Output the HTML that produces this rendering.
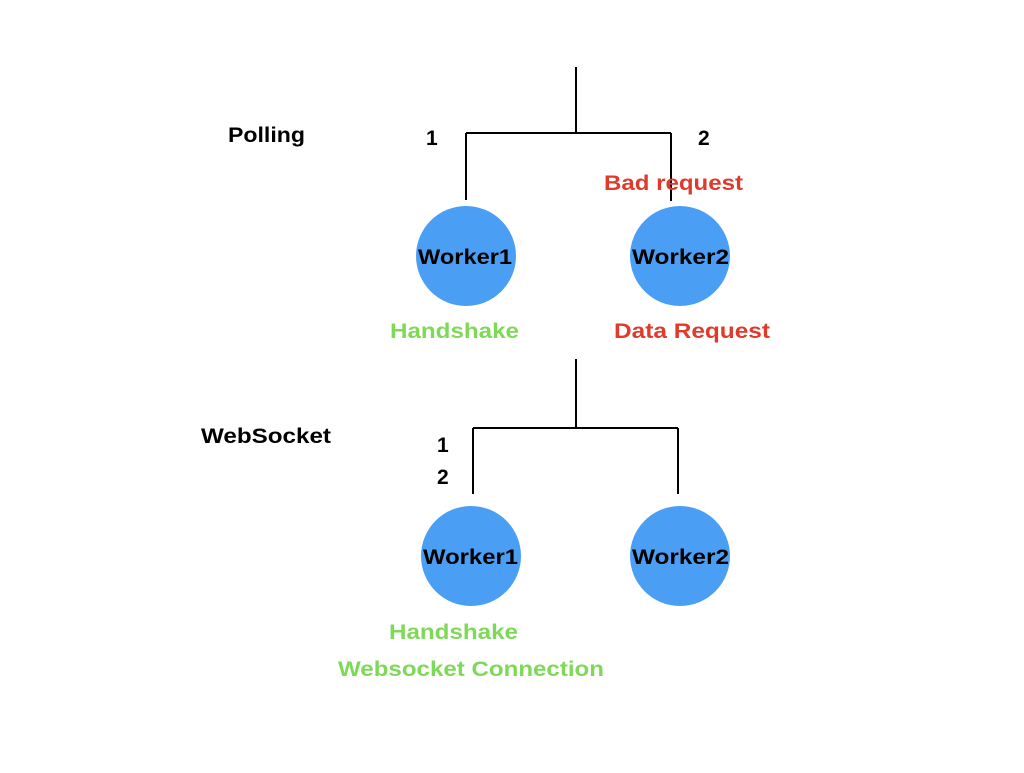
<!DOCTYPE html>
<html><head><style>html,body{margin:0;padding:0;background:#fff}</style></head>
<body>
<svg width="1024" height="768" viewBox="0 0 1024 768" xmlns="http://www.w3.org/2000/svg" font-family="Liberation Sans, Arial, sans-serif" font-weight="bold" font-size="21">
<g stroke="#000" stroke-width="2" fill="none">
<path d="M576 67V133M466 133H671M466 133V200M671 133V201"/>
<path d="M576 359V428M473 428H678M473 428V494M678 428V494"/>
</g>
<g fill="#4a9ff5">
<circle cx="466" cy="256" r="50"/>
<circle cx="680" cy="256" r="50"/>
<circle cx="471" cy="556" r="50"/>
<circle cx="680" cy="556" r="50"/>
</g>
<g fill="#000">
<text x="228" y="142" textLength="77" lengthAdjust="spacingAndGlyphs">Polling</text>
<text x="426" y="145">1</text>
<text x="698" y="145">2</text>
<text x="418" y="264" textLength="94" lengthAdjust="spacingAndGlyphs">Worker1</text>
<text x="632" y="264" textLength="97" lengthAdjust="spacingAndGlyphs">Worker2</text>
<text x="201" y="443" textLength="130" lengthAdjust="spacingAndGlyphs">WebSocket</text>
<text x="437" y="452">1</text>
<text x="437" y="484">2</text>
<text x="423" y="564" textLength="95" lengthAdjust="spacingAndGlyphs">Worker1</text>
<text x="632" y="564" textLength="97" lengthAdjust="spacingAndGlyphs">Worker2</text>
</g>
<g fill="#e03a2a">
<text x="604" y="190" textLength="139" lengthAdjust="spacingAndGlyphs">Bad request</text>
<text x="614" y="338" textLength="156" lengthAdjust="spacingAndGlyphs">Data Request</text>
</g>
<g fill="#7ed957">
<text x="390" y="338" textLength="129" lengthAdjust="spacingAndGlyphs">Handshake</text>
<text x="389" y="639" textLength="129" lengthAdjust="spacingAndGlyphs">Handshake</text>
<text x="338" y="676" textLength="266" lengthAdjust="spacingAndGlyphs">Websocket Connection</text>
</g>
</svg>
</body></html>
